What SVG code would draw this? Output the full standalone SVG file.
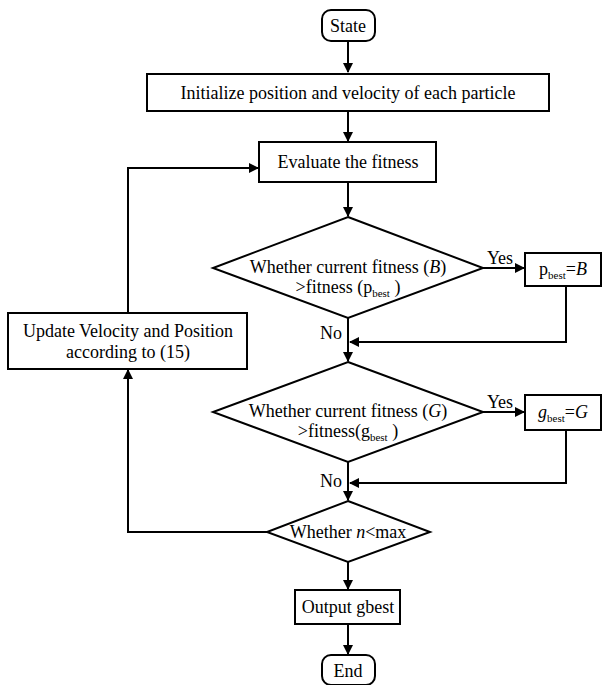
<svg xmlns="http://www.w3.org/2000/svg" width="603" height="685" viewBox="0 0 603 685">
<style>
.s{fill:#fff;stroke:#000;stroke-width:2}
.c{fill:none;stroke:#000;stroke-width:2}
text{font-family:'Liberation Serif','Times New Roman','DejaVu Serif',serif;font-size:18px;fill:#000}
.m{text-anchor:middle}
.sub{font-size:11px}
</style>
<defs>
<marker id="a" markerWidth="10" markerHeight="10" refX="9" refY="5" orient="auto" markerUnits="userSpaceOnUse">
<path d="M0,0 L10,5 L0,10 Z" fill="#000"/>
</marker>
</defs>
<g id="connectors">
<path class="c" d="M348,41 V72" marker-end="url(#a)"/>
<path class="c" d="M348,111 V141" marker-end="url(#a)"/>
<path class="c" d="M348,182 V216" marker-end="url(#a)"/>
<path class="c" d="M483,268 H524" marker-end="url(#a)"/>
<path class="c" d="M566,286 V342 H350" marker-end="url(#a)"/>
<path class="c" d="M348,318 V361" marker-end="url(#a)"/>
<path class="c" d="M483,412 H524" marker-end="url(#a)"/>
<path class="c" d="M566,430 V483 H350" marker-end="url(#a)"/>
<path class="c" d="M348,462 V500" marker-end="url(#a)"/>
<path class="c" d="M267,532 H128 V370" marker-end="url(#a)"/>
<path class="c" d="M128,313 V168 H258" marker-end="url(#a)"/>
<path class="c" d="M348,562 V589" marker-end="url(#a)"/>
<path class="c" d="M348,624 V654" marker-end="url(#a)"/>
<text x="500" y="264" class="m">Yes</text>
<text x="331" y="339" class="m">No</text>
<text x="500" y="408" class="m">Yes</text>
<text x="331" y="487" class="m">No</text>
</g>
<g id="state"><rect class="s" x="322" y="10" width="53" height="31" rx="9"/><text x="348" y="32" class="m">State</text></g>
<g id="init"><rect class="s" x="147" y="74" width="402" height="37"/><text x="348" y="99" class="m">Initialize position and velocity of each particle</text></g>
<g id="evaluate"><rect class="s" x="259" y="142" width="177" height="40"/><text x="348" y="168" class="m">Evaluate the fitness</text></g>
<g id="dec1"><polygon class="s" points="348,217 483,268 348,318 213,268"/>
<text x="348" y="273" class="m">Whether current fitness (<tspan font-style="italic">B</tspan>)</text>
<text x="348" y="293" class="m">&gt;fitness (p<tspan class="sub" dy="4">best</tspan><tspan dy="-4"> )</tspan></text></g>
<g id="pbest"><rect class="s" x="525" y="253" width="76" height="33"/><text x="563" y="275" class="m">p<tspan class="sub" dy="4">best</tspan><tspan dy="-4">=</tspan><tspan font-style="italic">B</tspan></text></g>
<g id="update"><rect class="s" x="8" y="313" width="239" height="56"/>
<text x="128" y="337" class="m">Update Velocity and Position</text>
<text x="128" y="358" class="m">according to (15)</text></g>
<g id="dec2"><polygon class="s" points="348,362 483,412 348,462 213,412"/>
<text x="348" y="417" class="m">Whether current fitness (<tspan font-style="italic">G</tspan>)</text>
<text x="348" y="437" class="m">&gt;fitness(g<tspan class="sub" dy="4">best</tspan><tspan dy="-4"> )</tspan></text></g>
<g id="gbest"><rect class="s" x="525" y="395" width="76" height="35"/><text x="563" y="418" class="m"><tspan font-style="italic">g</tspan><tspan class="sub" dy="4">best</tspan><tspan dy="-4">=</tspan><tspan font-style="italic">G</tspan></text></g>
<g id="dec3"><polygon class="s" points="348,501 430,532 348,562 267,532"/>
<text x="348" y="538" class="m">Whether <tspan font-style="italic">n</tspan>&lt;max</text></g>
<g id="output"><rect class="s" x="295" y="590" width="105" height="34"/><text x="348" y="613" class="m">Output gbest</text></g>
<g id="end"><rect class="s" x="322" y="655" width="53" height="30" rx="9"/><text x="348" y="677" class="m">End</text></g>
</svg>
